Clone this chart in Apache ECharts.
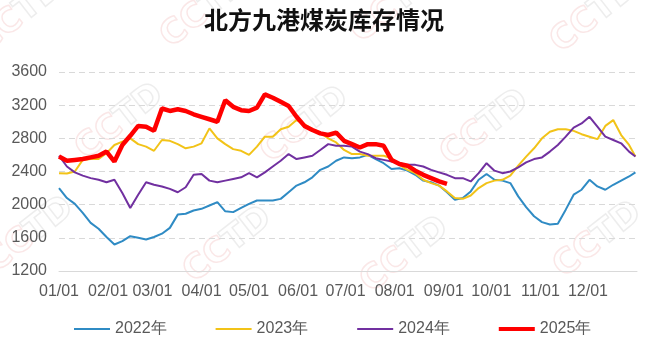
<!DOCTYPE html>
<html>
<head>
<meta charset="utf-8">
<script src="https://cdn.jsdelivr.net/npm/echarts@6.0.0/dist/echarts.min.js"></script>
<style>
html,body{margin:0;padding:0;background:#fff;}
#chart{width:648px;height:342px;}
</style>
</head>
<body>
<div id="chart"></div>
<script>
// Sample dates (MM-DD), roughly every 5 days
var dates = ['01-01','01-06','01-11','01-16','01-21','01-26','01-31','02-05','02-10','02-15','02-20','02-25',
'03-02','03-07','03-12','03-17','03-22','03-27','04-01','04-06','04-11','04-16','04-21','04-26',
'05-01','05-06','05-11','05-16','05-21','05-26','05-31','06-05','06-10','06-15','06-20','06-25','06-30',
'07-05','07-10','07-15','07-20','07-25','07-30','08-04','08-09','08-14','08-19','08-24','08-29',
'09-03','09-08','09-13','09-18','09-23','09-28','10-03','10-08','10-13','10-18','10-23','10-28',
'11-02','11-07','11-12','11-17','11-22','11-27','12-02','12-07','12-12','12-17','12-22','12-27','12-31'];

var seriesNames = ['2022年','2023年','2024年','2025年'];

var v2022 = [2200,2080,2010,1900,1780,1710,1610,1520,1560,1620,1600,1580,
1610,1650,1720,1880,1890,1930,1950,1990,2030,1920,1910,1960,
2010,2050,2050,2050,2070,2150,2230,2270,2330,2420,2460,2530,2570,
2560,2570,2600,2550,2500,2430,2440,2410,2360,2290,2270,2230,
2150,2060,2080,2160,2300,2370,2300,2290,2260,2100,1970,1860,
1790,1760,1770,1940,2120,2180,2300,2220,2180,2240,2290,2340,2390];

var v2023 = [2380,2375,2400,2540,2550,2550,2620,2720,2760,2800,2730,2700,
2650,2780,2770,2730,2680,2700,2740,2920,2800,2730,2670,2650,
2600,2700,2820,2820,2910,2940,3020,2970,2910,2870,2800,2750,2660,
2610,2610,2590,2590,2590,2560,2480,2420,2380,2300,2260,2230,
2160,2080,2070,2110,2200,2260,2290,2300,2350,2470,2580,2680,
2800,2880,2910,2910,2890,2850,2820,2790,2950,3020,2840,2720,2580];

var v2024 = [2590,2460,2390,2350,2320,2300,2270,2300,2140,1960,2120,2270,
2240,2220,2190,2150,2210,2360,2370,2290,2270,2290,2310,2330,
2380,2330,2390,2460,2530,2610,2550,2570,2590,2660,2730,2710,2710,
2700,2640,2610,2560,2540,2520,2500,2480,2480,2460,2420,2390,
2360,2320,2320,2280,2380,2500,2410,2380,2400,2450,2510,2550,
2570,2640,2720,2820,2930,2980,3060,2940,2820,2780,2740,2640,2580];

var v2025 = [2580,2530,2540,2550,2570,2590,2640,2520,2720,2830,2950,2940,
2890,3160,3130,3150,3130,3090,3060,3030,3000,3260,3180,3140,
3130,3170,3330,3290,3240,3190,3060,2950,2900,2860,2840,2870,2770,
2730,2690,2730,2730,2710,2540,2490,2470,2410,2360,2320,2280,
2250];

var yTicks = {min:1200, max:3600, interval:400};
var colors = ['#2F8BC4','#F2C318','#7130A0','#FF0000'];
var widths = [2,2,2,4.5];

function pairs(vals){
  var out = [];
  for (var i = 0; i < vals.length; i++) {
    out.push(['2025-' + dates[i], vals[i]]);
  }
  return out;
}

var allVals = [v2022, v2023, v2024, v2025];
var series = allVals.map(function(vals, i){
  return {
    name: seriesNames[i],
    type: 'line',
    data: pairs(vals),
    symbol: 'none',
    smooth: false,
    z: 2 + i,
    lineStyle: {color: colors[i], width: widths[i]},
    itemStyle: {color: colors[i]}
  };
});

// legend icons: a line inside a 36x10 box (tiny corner dots keep the box size)
var thinIcon = 'path://M0,0h0.01v0.01h-0.01z M0,4h36v2h-36z M35.99,10h0.01v-0.01h-0.01z';
var thickIcon = 'path://M0,0h0.01v0.01h-0.01z M0,3h36v4h-36z M35.99,10h0.01v-0.01h-0.01z';

function watermark(x, y){
  return {
    type: 'text', x: x, y: y, rotation: Math.PI * 38 / 180,
    silent: true, z: -10,
    style: {
      text: '{a|CC}{b|TD}',
      align: 'center', verticalAlign: 'middle',
      rich: {
        a: {fontSize: 34, fontWeight: 'bold', fontFamily: 'DejaVu Sans', fill: 'rgba(0,0,0,0)', stroke: 'rgba(236,170,170,0.28)', lineWidth: 1.5},
        b: {fontSize: 34, fontWeight: 'bold', fontFamily: 'DejaVu Sans', fill: 'rgba(0,0,0,0)', stroke: 'rgba(190,190,190,0.28)', lineWidth: 1.5}
      }
    }
  };
}

var chart = echarts.init(document.getElementById('chart'), null, {renderer: 'canvas'});
chart.setOption({
  animation: false,
  backgroundColor: '#fff',
  title: {
    text: '北方九港煤炭库存情况',
    left: 'center', top: 3,
    textStyle: {fontFamily: 'Noto Sans CJK SC', fontSize: 24, fontWeight: 'bold', color: '#111'}
  },
  graphic: [
    watermark(20, 15), watermark(205, 10), watermark(395, 5), watermark(595, 15),
    watermark(120, 122), watermark(305, 125), watermark(485, 128),
    watermark(30, 235), watermark(228, 245), watermark(405, 255), watermark(598, 240)
  ],
  legend: {
    data: seriesNames.map(function(n, i){ return {name: n, icon: i === 3 ? thickIcon : thinIcon}; }),
    left: 69, top: 316,
    itemWidth: 36, itemHeight: 10, itemGap: 49,
    textStyle: {fontFamily: 'Liberation Sans', fontSize: 16, color: '#595959'}
  },
  grid: {left: 59, right: 11, top: 72, bottom: 71, containLabel: false},
  xAxis: {
    type: 'time',
    min: '2025-01-01',
    max: '2026-01-01',
    splitNumber: 12,
    minInterval: 28 * 86400000,
    maxInterval: 31 * 86400000,
    axisLine: {show: true, lineStyle: {color: '#d9d9d9', width: 1}},
    axisTick: {show: false},
    splitLine: {show: false},
    axisLabel: {
      showMaxLabel: false,
      hideOverlap: false,
      margin: 13,
      fontFamily: 'Liberation Sans', fontSize: 16, color: '#595959',
      formatter: function(val){
        var d = new Date(val);
        var m = d.getMonth() + 1, dd = d.getDate();
        return (m < 10 ? '0' + m : m) + '/' + (dd < 10 ? '0' + dd : dd);
      }
    }
  },
  yAxis: {
    type: 'value',
    min: yTicks.min, max: yTicks.max, interval: yTicks.interval,
    axisLine: {show: false},
    axisTick: {show: false},
    splitLine: {show: true, lineStyle: {color: '#d9d9d9', type: [6, 4], width: 1}},
    axisLabel: {
      margin: 12, fontFamily: 'Liberation Sans', fontSize: 16, color: '#595959',
      formatter: function(v){ return String(v); }
    }
  },
  series: series
});
</script>
</body>
</html>
